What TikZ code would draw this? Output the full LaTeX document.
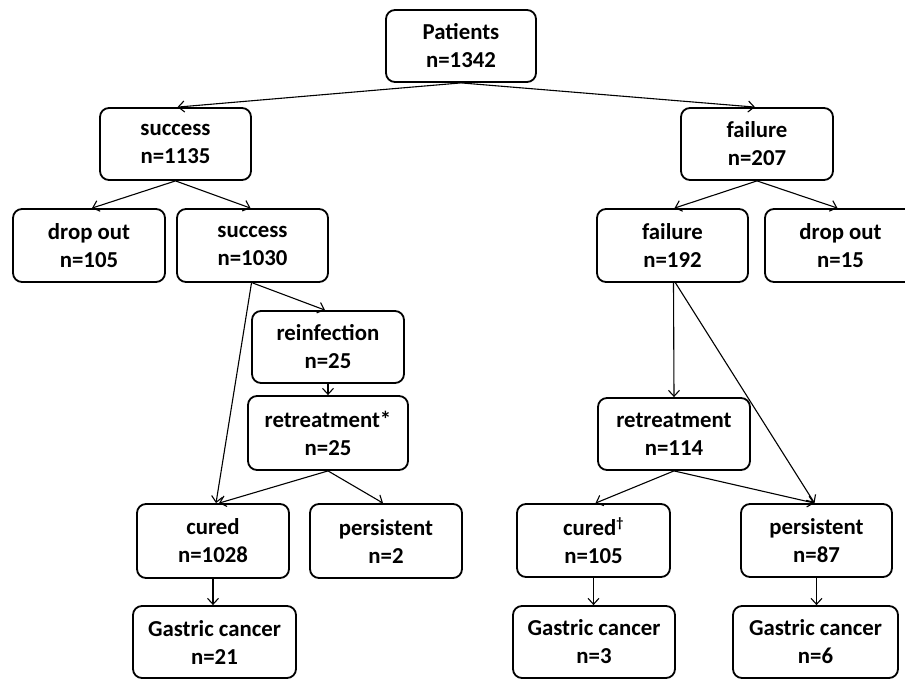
\documentclass[tikz,border=0pt]{standalone}
\usepackage{fontspec}
\setmainfont{Carlito}
\usetikzlibrary{arrows.meta}
\begin{document}
\begin{tikzpicture}[x=1pt,y=-1pt,
  box/.style={draw, line width=1.8pt, rounded corners=9pt, align=center,
    minimum height=72pt, inner sep=0pt,
    font=\fontsize{22.8}{28}\selectfont\bfseries},
  arr/.style={line width=1.1pt, -{Straight Barb[length=6pt,width=11pt,line width=1.1pt]}}]
\useasboundingbox (0,0) rectangle (905,678);
\fill[white] (0,0) rectangle (905,678);
\node[box, minimum width=150pt] (pat) at (461,46) {Patients\\n=1342};
\node[box, minimum width=151pt] (suc1) at (175.5,144) {success\\n=1135};
\node[box, minimum width=152pt] (fail1) at (757,144) {failure\\n=207};
\node[box, minimum width=152pt, minimum height=73pt] (drop1) at (89,245.5) {drop out\\n=105};
\node[box, minimum width=151pt, minimum height=73pt] (suc2) at (252.5,245.5) {success\\n=1030};
\node[box, minimum width=151pt, minimum height=73pt] (fail2) at (672.5,245.5) {failure\\n=192};
\node[box, minimum width=151pt, minimum height=73pt] (drop2) at (840.5,245.5) {drop out\\n=15};
\node[box, minimum width=152pt] (reinf) at (328,347) {reinfection\\n=25};
\node[box, minimum width=160pt, minimum height=74pt] (retr1) at (328,433) {retreatment*\\n=25};
\node[box, minimum width=152pt] (retr2) at (674,434) {retreatment\\n=114};
\node[box, minimum width=152pt, minimum height=74pt] (cur1) at (213,541) {cured\\n=1028};
\node[box, minimum width=152pt, minimum height=74pt] (pers1) at (386,541) {persistent\\n=2};
\node[box, minimum width=153pt, minimum height=73pt] (cur2) at (593.5,540.5) {cured\textsuperscript{\fontsize{14}{14}\selectfont †}\\n=105};
\node[box, minimum width=151pt, minimum height=73pt] (pers2) at (816.5,540.5) {persistent\\n=87};
\node[box, minimum width=163pt, minimum height=72pt] (gc1) at (214.5,642) {Gastric cancer\\n=21};
\node[box, minimum width=162pt, minimum height=72pt] (gc2) at (594,642) {Gastric cancer\\n=3};
\node[box, minimum width=165pt, minimum height=72pt] (gc3) at (815.5,642) {Gastric cancer\\n=6};
% connectors
\draw[arr] (pat.south) -- ([xshift=2pt]suc1.north);
\draw[arr] (pat.south) -- ([xshift=-2pt]fail1.north);
\draw[arr] (suc1.south) -- ([xshift=3pt]drop1.north);
\draw[arr] (suc1.south) -- ([xshift=-2pt]suc2.north);
\draw[arr] (suc2.south) -- ([xshift=-3pt]reinf.north);
\draw[arr] ([xshift=-1pt]suc2.south) -- ([xshift=3pt]cur1.north);
\draw[arr] (reinf.south) -- (retr1.north);
\draw[arr] (retr1.south) -- ([xshift=6pt]cur1.north);
\draw[arr] (retr1.south) -- ([xshift=-3pt]pers1.north);
\draw[arr] (fail1.south) -- ([xshift=2pt]fail2.north);
\draw[arr] (fail1.south) -- ([xshift=-3pt]drop2.north);
\draw[arr] ([xshift=1pt]fail2.south) -- (retr2.north);
\draw[arr] ([xshift=3pt]fail2.south) -- ([xshift=-2pt]pers2.north);
\draw[arr] (retr2.south) -- ([xshift=2pt]cur2.north);
\draw[arr] (retr2.south) -- ([xshift=-2pt]pers2.north);
\draw[arr] (cur1.south) -- (gc1.north -| cur1.south);
\draw[arr] (cur2.south) -- (gc2.north -| cur2.south);
\draw[arr] (pers2.south) -- (gc3.north -| pers2.south);
\end{tikzpicture}
\end{document}
